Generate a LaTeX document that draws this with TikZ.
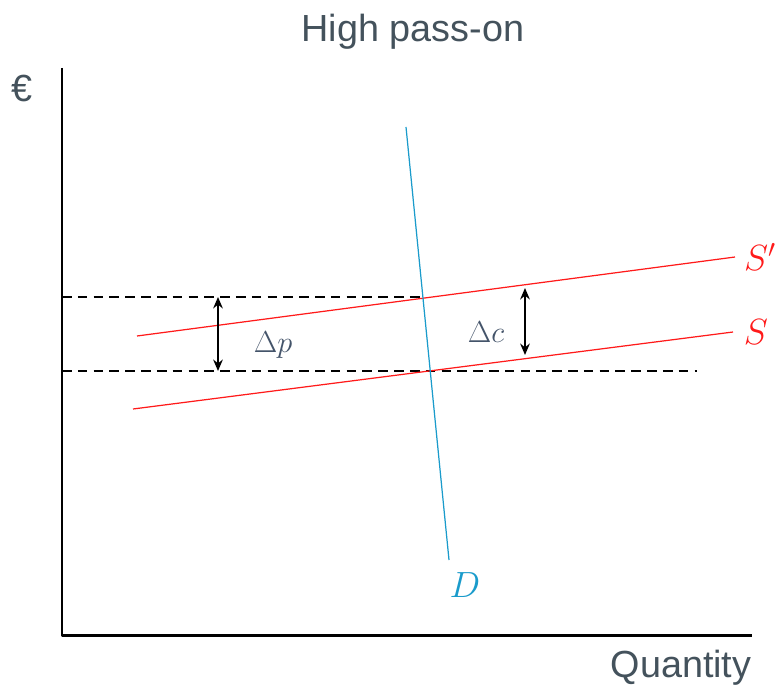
\documentclass[tikz,border=0pt]{standalone}
\usepackage{fontspec}
\setmainfont{Liberation Sans}
\usetikzlibrary{arrows.meta, positioning}

\definecolor{txtgray}{HTML}{44525C}
\definecolor{mathgray}{HTML}{44546A}
\definecolor{demblue}{HTML}{1A9BCB}
\definecolor{supred}{HTML}{FF1A1A}

\begin{document}
\begin{tikzpicture}[line cap=butt, line join=round, >={Stealth[length=6.5pt, width=5.5pt]}, x=0.02cm, y=-0.02cm]
	% Picture window (pixel grid of the original)
	\useasboundingbox (0,0) rectangle (777,689);
	
	\tikzset{
		axislbl/.style={text=txtgray, font=\fontsize{21.5}{26}\selectfont, inner sep=0pt},
		curvelbl/.style={font=\fontsize{20}{24}\selectfont, inner sep=0pt},
		deltalbl/.style={text=mathgray, font=\fontsize{16.5}{19}\selectfont, inner sep=0pt},
		guide/.style={black, line width=1.2pt, dash pattern=on 5.5pt off 3.5pt},
		shiftarrow/.style={<->, black, line width=1.3pt}
	}
	
	% Title and axis labels
	\node[axislbl] (title) at (413,32) {High pass-on};
	\node[axislbl] (euro) at (22,88) {€};
	\node[axislbl] (qty) at (681,668) {Quantity};
	
	% Axes
	\coordinate (orig) at (62,635);
	\coordinate (ytop) at (62,68);
	\coordinate (xend) at (752,635);
	\draw[black, line width=1.7pt] (ytop) -- (orig) -- (xend);
	
	% Equilibrium points
	\coordinate (eqnew) at (423.5,297);
	\coordinate (eqold) at (430.5,371);
	
	% Dashed price levels
	\coordinate (pnew) at (62,297);
	\coordinate (pold) at (62,371);
	\coordinate (pend) at (697,371);
	\draw[guide] (pnew) -- (eqnew);
	\draw[guide] (pold) -- (pend);
	
	% Supply curves: S (before) and S' (after cost rise)
	\coordinate (snewa) at (137,336);
	\coordinate (snewb) at (735,257);
	\coordinate (solda) at (133,409);
	\coordinate (soldb) at (733,332);
	\draw[supred, line width=0.7pt] (snewa) -- (snewb);
	\draw[supred, line width=0.7pt] (solda) -- (soldb);
	\node[curvelbl, text=supred, right=5pt of snewb] (snewlbl) {$S'$};
	\node[curvelbl, text=supred, right=6pt of soldb] (soldlbl) {$S$};
	
	% Demand curve
	\coordinate (dtop) at (406,127);
	\coordinate (dbot) at (449,560);
	\draw[demblue, line width=0.7pt] (dtop) -- (dbot);
	\node[curvelbl, text=demblue] (dlbl) at (465,585) {$D$};
	
	% Price change and cost change
	\coordinate (pa) at (218,297);
	\coordinate (pb) at (218,371);
	\coordinate (ca) at (525,288);
	\coordinate (cb) at (525,355);
	\draw[shiftarrow] (pa) -- (pb);
	\draw[shiftarrow] (ca) -- (cb);
	\node[deltalbl] (dp) at (273,345) {$\Delta p$};
	\node[deltalbl] (dc) at (486,332) {$\Delta c$};
	
\end{tikzpicture}
\end{document}
